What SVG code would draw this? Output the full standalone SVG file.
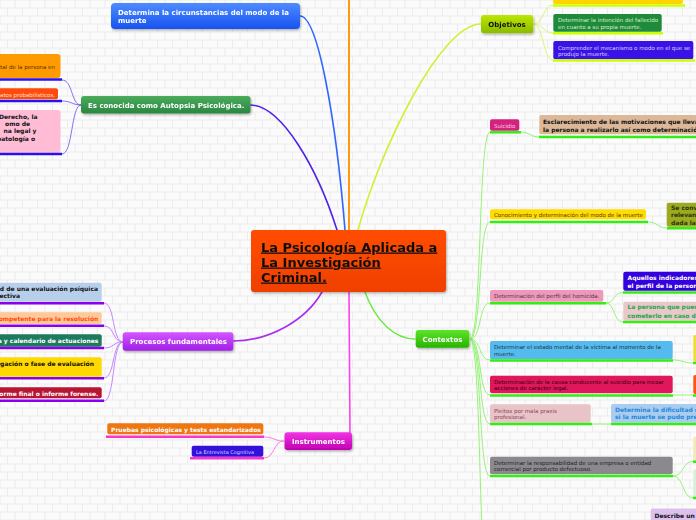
<svg xmlns="http://www.w3.org/2000/svg" width="696" height="520" viewBox="0 0 696 520">
<defs>
<pattern id="brick" width="30" height="16" patternUnits="userSpaceOnUse">
<rect width="30" height="16" fill="#ececec"/>
<rect x="0.5" y="0.5" width="14" height="7" fill="#fbfbfb"/>
<rect x="15.5" y="0.5" width="14" height="7" fill="#fbfbfb"/>
<rect x="-7" y="8.5" width="14" height="7" fill="#fbfbfb"/>
<rect x="8" y="8.5" width="14" height="7" fill="#fbfbfb"/>
<rect x="23" y="8.5" width="14" height="7" fill="#fbfbfb"/>
</pattern>
<linearGradient id="gBlue" x1="0" y1="0" x2="0" y2="1"><stop offset="0" stop-color="#4d8bff"/><stop offset="1" stop-color="#1753f0"/></linearGradient>
<linearGradient id="gDGreen" x1="0" y1="0" x2="0" y2="1"><stop offset="0" stop-color="#4aab5c"/><stop offset="1" stop-color="#2b8640"/></linearGradient>
<linearGradient id="gYG" x1="0" y1="0" x2="0" y2="1"><stop offset="0" stop-color="#bde600"/><stop offset="1" stop-color="#8abb00"/></linearGradient>
<linearGradient id="gGreen" x1="0" y1="0" x2="0" y2="1"><stop offset="0" stop-color="#5ce52a"/><stop offset="1" stop-color="#27b300"/></linearGradient>
<linearGradient id="gPurple" x1="0" y1="0" x2="0" y2="1"><stop offset="0" stop-color="#d455ff"/><stop offset="1" stop-color="#a01fe6"/></linearGradient>
<linearGradient id="gMag" x1="0" y1="0" x2="0" y2="1"><stop offset="0" stop-color="#f235e6"/><stop offset="1" stop-color="#c000b0"/></linearGradient>
<linearGradient id="gCentral" x1="0" y1="0" x2="0" y2="1"><stop offset="0" stop-color="#ff4d00"/><stop offset="1" stop-color="#f04000"/></linearGradient>
<filter id="sh" x="-10%" y="-20%" width="130%" height="160%"><feDropShadow dx="1" dy="1.5" stdDeviation="1" flood-color="#000" flood-opacity="0.3"/></filter>
</defs>
<style>
text{font-family:"DejaVu Sans","Liberation Sans",sans-serif}
.m{font-size:7px;font-weight:bold;fill:#fff}
.b{font-size:6px;font-weight:bold}
.s{font-size:5.5px}
.c{fill:none;stroke-linecap:round}
.ul{stroke-width:2.5;stroke-linecap:butt}
</style>
<rect width="696" height="520" fill="url(#brick)"/>

<g id="connectors">
<!-- main -->
<line class="c" x1="349" y1="0" x2="349" y2="230" stroke="#ff9a10" stroke-width="2"/>
<path class="c" d="M300,16 C318,16 336,120 345,230" stroke="#2f66ff" stroke-width="1.6"/>
<path class="c" d="M250,105 C282,105 318,170 337,230" stroke="#5022e6" stroke-width="1.6"/>
<path class="c" d="M481,24 C440,24 380,150 358,230" stroke="#d0f030" stroke-width="1.6"/>
<path class="c" d="M365,292 C376,322 395,339 415,339" stroke="#6ae83e" stroke-width="1.4"/>
<path class="c" d="M233,341 C270,341 306,320 322,292" stroke="#aa2cf0" stroke-width="1.6"/>
<path class="c" d="M349,292 L350,434" stroke="#ff40ee" stroke-width="1.6"/>
<!-- Es conocida children -->
<g stroke="#6b4ef0" stroke-width="0.8" fill="none">
<path d="M62,80 C73,80 71,105 81,105"/>
<path d="M62,101 C72,101 72,105 81,105"/>
<path d="M62,154 C73,154 71,105 81,105"/>
</g>
<!-- Objetivos children -->
<g stroke="#d4f56a" stroke-width="0.9" fill="none">
<path d="M533,24 C544,24 543,5 553,5"/>
<path d="M533,24 C544,24 543,33 553,33"/>
<path d="M533,24 C544,24 543,60 553,60"/>
</g>
<!-- Procesos children -->
<g stroke="#c07bff" stroke-width="0.9" fill="none">
<path d="M104,303 C115,303 112,342 123,342"/>
<path d="M104,326 C115,326 112,342 123,342"/>
<path d="M104,348 C115,348 112,342 123,342"/>
<path d="M104,378 C115,378 112,342 123,342"/>
<path d="M104,401 C115,401 112,342 123,342"/>
</g>
<!-- Instrumentos children -->
<g stroke="#ff6fe0" stroke-width="0.9" fill="none">
<path d="M264,437 C274,437 274,441 284,441"/>
<path d="M264,458 C275,458 273,441 284,441"/>
</g>
<!-- Contextos children -->
<g stroke="#8cf06a" stroke-width="0.9" fill="none">
<path d="M470,339 C482,339 478,132 490,132"/>
<path d="M470,339 C482,339 478,222 490,222"/>
<path d="M470,339 C482,339 478,303 490,303"/>
<path d="M470,339 C482,339 478,360 490,360"/>
<path d="M470,339 C482,339 478,395 490,395"/>
<path d="M470,339 C482,339 478,424 490,424"/>
<path d="M470,339 C482,339 478,476 490,476"/>
<path d="M470,339 C482,339 478,600 490,600"/>
<path d="M521,132 C530,132 530,137 539,137"/>
<path d="M648,222 C658,222 657,228 667,228"/>
<path d="M606,303 C615,303 613,292.5 623,292.5"/>
<path d="M606,303 C615,303 613,322 623,322"/>
<path d="M673,360 C683,360 683,363 693,363"/>
<path d="M673,395 C683,395 683,395 693,395"/>
<path d="M590,424 C600,424 601,424 611,424"/>
<path d="M673,476 C684,476 682,461.5 693,461.5"/>
<path d="M673,476 C684,476 682,498 693,498"/>
</g>
</g>

<g id="central" filter="url(#sh)">
<rect x="251" y="230" width="195" height="62" rx="3" fill="url(#gCentral)"/>
<text x="261" y="251.5" font-size="13" font-weight="bold" fill="#111" text-decoration="underline">La Psicología Aplicada a </text>
<text x="261" y="266.5" font-size="13" font-weight="bold" fill="#111" text-decoration="underline">La Investigación </text>
<text x="261" y="281.5" font-size="13" font-weight="bold" fill="#111" text-decoration="underline">Criminal.</text>
</g>

<g id="determina" filter="url(#sh)">
<rect x="111" y="3" width="189" height="26" rx="4" fill="url(#gBlue)"/>
<text class="m" x="118" y="15">Determina la circunstancias del modo de la</text>
<text class="m" x="118" y="23">muerte</text>
</g>

<g id="autopsia" filter="url(#sh)">
<rect x="81" y="96" width="169.5" height="17.5" rx="3" fill="url(#gDGreen)"/>
<text class="m" x="88" y="107.5">Es conocida como Autopsia Psicológica.</text>
</g>
<g id="auto-c1">
<rect x="-5" y="54" width="65.5" height="24" rx="3" fill="#ff9a00"/>
<text class="s" x="55" y="68.5" text-anchor="end" fill="#553300">tal de la persona en</text>
<line class="ul" x1="-2" y1="79.5" x2="62" y2="79.5" stroke="#2a10ee"/>
</g>
<g id="auto-c2">
<rect x="-5" y="88.3" width="63" height="11" rx="2" fill="#ff4a0a"/>
<text class="s" x="55" y="96.5" text-anchor="end" fill="#ffe0d8">datos probabilísticos.</text>
<line class="ul" x1="-2" y1="101" x2="62" y2="101" stroke="#2a10ee"/>
</g>
<g id="auto-c3">
<rect x="-5" y="110" width="65.5" height="42.7" rx="3" fill="#ffbcd4"/>
<g class="b" fill="#111">
<text x="37.5" y="119" text-anchor="end">Derecho, la</text>
<text x="30" y="125.5" text-anchor="end">omo de</text>
<text x="36.5" y="133" text-anchor="end">na legal y</text>
<text x="35" y="140.5" text-anchor="end">patología o</text>
</g>
<line class="ul" x1="-2" y1="154" x2="62" y2="154" stroke="#2a10ee"/>
</g>

<g id="objetivos" filter="url(#sh)">
<rect x="481" y="15" width="52.3" height="18.3" rx="3" fill="url(#gYG)"/>
<text class="m" x="507" y="27" text-anchor="middle" fill="#111" style="fill:#111">Objetivos</text>
</g>
<g id="obj-c0">
<rect x="553" y="-6" width="130" height="10" rx="2" fill="#ffd400"/>
<line class="ul" x1="553" y1="5.5" x2="685" y2="5.5" stroke="#ccff00"/>
</g>
<g id="obj-c1">
<rect x="553.3" y="14" width="108.4" height="17.7" rx="2" fill="#1e8a3a"/>
<text class="s" x="558" y="22" fill="#d8f0d0">Determinar la intención del fallecido</text>
<text class="s" x="558" y="28.5" fill="#d8f0d0">en cuanto a su propia muerte.</text>
<line class="ul" x1="553" y1="33.3" x2="663" y2="33.3" stroke="#ccff00"/>
</g>
<g id="obj-c2">
<rect x="553.3" y="41" width="140" height="18.3" rx="2" fill="#3a12e6"/>
<text class="s" x="558" y="49.5" fill="#d8d4ff">Comprender el mecanismo o modo en el que se</text>
<text class="s" x="558" y="56" fill="#d8d4ff">produjo la muerte.</text>
<line class="ul" x1="553" y1="60.5" x2="695" y2="60.5" stroke="#ccff00"/>
</g>

<g id="contextos" filter="url(#sh)">
<rect x="415.7" y="330" width="53.6" height="17.7" rx="3" fill="url(#gGreen)"/>
<text class="m" x="442.5" y="342" text-anchor="middle">Contextos</text>
</g>
<g id="ctx-suicidio">
<rect x="490" y="119.3" width="29.3" height="11.4" rx="2" fill="#d4227e"/>
<text class="s" x="494" y="127.5" fill="#ffd0e4">Suicidio</text>
<line class="ul" x1="490" y1="132.3" x2="521" y2="132.3" stroke="#33ee11"/>
</g>
<g id="ctx-esclarecimiento">
<rect x="539.3" y="115" width="170" height="19.3" rx="2" fill="#dcb898"/>
<text class="b" x="543" y="124" fill="#111">Esclarecimiento de las motivaciones que lleva</text>
<text class="b" x="543" y="131.5" fill="#111">la persona a realizarlo así como determinació</text>
<line class="ul" x1="539" y1="137" x2="700" y2="137" stroke="#33ee11"/>
</g>
<g id="ctx-modo">
<rect x="490" y="209.3" width="156" height="10" rx="2" fill="#ffdd00"/>
<text class="s" x="494" y="217" fill="#553300">Conocimiento y determinación del modo de la muerte</text>
<line class="ul" x1="490" y1="222" x2="648" y2="222" stroke="#33ee11"/>
</g>
<g id="ctx-convierte">
<rect x="666.7" y="202.7" width="40" height="24" rx="2" fill="#9aaa22"/>
<g class="b" fill="#333300">
<text x="671" y="210">Se convie</text>
<text x="671" y="217">relevanci</text>
<text x="671" y="224.5">dada la i</text>
</g>
<line class="ul" x1="667" y1="228.3" x2="700" y2="228.3" stroke="#33ee11"/>
</g>
<g id="ctx-perfil">
<rect x="490" y="290" width="113.3" height="11.7" rx="2" fill="#ee99bb"/>
<text class="s" x="494" y="298" fill="#553344">Determinación del perfil del homicida.</text>
<line class="ul" x1="490" y1="303.3" x2="606" y2="303.3" stroke="#33ee11"/>
</g>
<g id="ctx-indicadores">
<rect x="623.3" y="271.7" width="80" height="19" rx="2" fill="#3300dd"/>
<text class="b" x="627.5" y="280" fill="#fff">Aquellos indicadores</text>
<text class="b" x="627.5" y="288" fill="#fff">el perfil de la person</text>
<line class="ul" x1="623" y1="292.5" x2="700" y2="292.5" stroke="#33ee11"/>
</g>
<g id="ctx-persona">
<rect x="623.3" y="301.7" width="80" height="19" rx="2" fill="#e8c8c8"/>
<text class="b" x="627.5" y="309" fill="#1fa650">La persona que pued</text>
<text class="b" x="627.5" y="317.5" fill="#1fa650">cometerlo en caso d</text>
<line class="ul" x1="623" y1="322" x2="700" y2="322" stroke="#33ee11"/>
</g>
<g id="ctx-estado">
<rect x="490" y="341" width="182.7" height="18.3" rx="2" fill="#55bbee"/>
<text class="s" x="494" y="349" fill="#223344">Determinar el estado mental de la víctima al momento de la</text>
<text class="s" x="494" y="356" fill="#223344">muerte.</text>
<line class="ul" x1="490" y1="360.5" x2="673" y2="360.5" stroke="#33ee11"/>
</g>
<g id="ctx-estado-r">
<rect x="693.3" y="335" width="10" height="26.7" rx="2" fill="#eedd33"/>
<line class="ul" x1="693" y1="363" x2="700" y2="363" stroke="#33ee11"/>
</g>
<g id="ctx-causa">
<rect x="490" y="375.7" width="182.7" height="17.6" rx="2" fill="#e0175a"/>
<text class="s" x="494" y="383.5" fill="#330011">Determinación de la causa conducente al suicidio para incoar</text>
<text class="s" x="494" y="390" fill="#330011">acciones de carácter legal.</text>
<line class="ul" x1="490" y1="395.5" x2="673" y2="395.5" stroke="#33ee11"/>
</g>
<g id="ctx-causa-r">
<rect x="693.3" y="375" width="10" height="19" rx="2" fill="#ff5511"/>
<line class="ul" x1="693" y1="395.5" x2="700" y2="395.5" stroke="#33ee11"/>
</g>
<g id="ctx-pleitos">
<rect x="490" y="404.3" width="100.7" height="18.4" rx="2" fill="#e8c4c8"/>
<text class="s" x="494" y="412.5" fill="#884455">Pleitos por mala praxis</text>
<text class="s" x="494" y="419" fill="#884455">profesional.</text>
<line class="ul" x1="490" y1="424" x2="592" y2="424" stroke="#33ee11"/>
</g>
<g id="ctx-dificultad">
<rect x="611" y="404" width="95" height="18.7" rx="2" fill="#aaccee"/>
<text class="b" x="615" y="412" fill="#2288dd">Determina la dificultad qu</text>
<text class="b" x="615" y="419" fill="#2288dd">si la muerte se pudo prede</text>
<line class="ul" x1="611" y1="424" x2="700" y2="424" stroke="#33ee11"/>
</g>
<g id="ctx-responsabilidad">
<rect x="490" y="456.7" width="182.7" height="17.6" rx="2" fill="#8a8a8e"/>
<text class="s" x="494" y="464.5" fill="#222">Determinar la responsabilidad de una empresa o entidad</text>
<text class="s" x="494" y="471" fill="#222">comercial por producto defectuoso.</text>
<line class="ul" x1="490" y1="476" x2="673" y2="476" stroke="#33ee11"/>
</g>
<g id="ctx-resp-r1">
<rect x="693.3" y="436.7" width="10" height="24.3" rx="2" fill="#f2eab4"/>
<line class="ul" x1="693" y1="461.7" x2="700" y2="461.7" stroke="#33ee11"/>
</g>
<g id="ctx-resp-r2">
<rect x="693.3" y="469.3" width="10" height="28" rx="2" fill="#d8efd8"/>
<line class="ul" x1="693" y1="498" x2="700" y2="498" stroke="#33ee11"/>
</g>
<g id="ctx-describe">
<rect x="650.7" y="508.5" width="55" height="20" rx="2" fill="#dcc0ee"/>
<text class="b" x="654.5" y="518" fill="#111">Describe un co</text>
</g>

<g id="procesos" filter="url(#sh)">
<rect x="122.7" y="332.3" width="110.6" height="18.4" rx="3" fill="url(#gPurple)"/>
<text class="m" x="130" y="344">Procesos fundamentales</text>
</g>
<g id="proc-c1">
<rect x="-5" y="282.7" width="106.7" height="19" rx="2" fill="#b8cfec"/>
<text class="b" x="98" y="290.5" text-anchor="end" fill="#111">d de una evaluación psíquica</text>
<text class="b" x="20" y="298" text-anchor="end" fill="#111">ectiva</text>
<line class="ul" x1="-2" y1="303.3" x2="104" y2="303.3" stroke="#8a00ee"/>
</g>
<g id="proc-c2">
<rect x="-5" y="312.3" width="106.7" height="11.7" rx="2" fill="#ffc898"/>
<text class="b" x="98.3" y="321" text-anchor="end" fill="#ff4a10">ompetente para la resolución</text>
<line class="ul" x1="-2" y1="325.7" x2="104" y2="325.7" stroke="#8a00ee"/>
</g>
<g id="proc-c3">
<rect x="-5" y="334.3" width="106.7" height="12.4" rx="2" fill="#1c7a5e"/>
<text class="b" x="98.3" y="342.5" text-anchor="end" fill="#fff">a y calendario de actuaciones</text>
<line class="ul" x1="-2" y1="348" x2="104" y2="348" stroke="#8a00ee"/>
</g>
<g id="proc-c4">
<rect x="-5" y="357.3" width="106.7" height="19.4" rx="2" fill="#ffd800"/>
<text class="b" x="94" y="366" text-anchor="end" fill="#111">igación o fase de evaluación</text>
<line class="ul" x1="-2" y1="378.3" x2="104" y2="378.3" stroke="#8a00ee"/>
</g>
<g id="proc-c5">
<rect x="-5" y="387.3" width="106.7" height="11" rx="2" fill="#b81535"/>
<text class="b" x="98.3" y="395.5" text-anchor="end" fill="#fff">forme final o informe forense.</text>
<line class="ul" x1="-2" y1="400.7" x2="104" y2="400.7" stroke="#8a00ee"/>
</g>

<g id="instrumentos" filter="url(#sh)">
<rect x="284.5" y="432.3" width="67.5" height="17.7" rx="3" fill="url(#gMag)"/>
<text class="m" x="292" y="444">Instrumentos</text>
</g>
<g id="inst-c1">
<rect x="107.3" y="423.3" width="156" height="11" rx="2" fill="#ee7711"/>
<text class="b" x="111" y="431.8" fill="#fff">Pruebas psicológicas y tests estandarizados</text>
<line class="ul" x1="106" y1="436.7" x2="264" y2="436.7" stroke="#ff33cc"/>
</g>
<g id="inst-c2">
<rect x="191.7" y="445.7" width="71.6" height="11" rx="2" fill="#3311dd"/>
<text x="196" y="453.5" font-size="5" fill="#d8d4ff">La Entrevista Cognitiva</text>
<line class="ul" x1="190" y1="458.3" x2="264" y2="458.3" stroke="#ff33cc"/>
</g>
</svg>
